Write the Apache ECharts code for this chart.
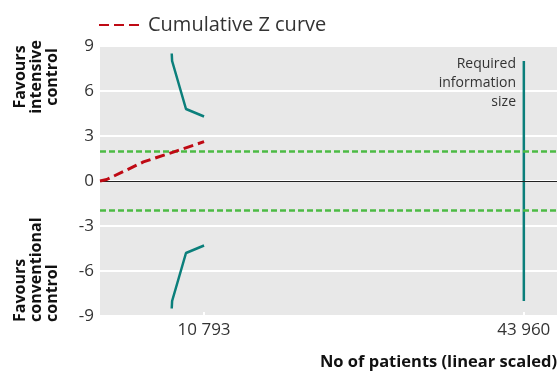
<!DOCTYPE html>
<html>
<head>
<meta charset="utf-8">
<script src="https://cdn.jsdelivr.net/npm/echarts@6/dist/echarts.min.js"></script>
<style>
    html, body { margin: 0; padding: 0; background: #fff; }
    #chart { width: 557px; height: 372px; }
</style>
</head>
<body>
<div id="chart"></div>
<script>
    // patients / cumulative Z
    var zCurveX = [0, 700, 4500, 7600, 10793];
    var zCurveY = [0, 0.1, 1.27, 1.93, 2.62];

    // monitoring boundaries (upper, lower is mirrored)
    var boundX = [7440, 7480, 8920, 10793];
    var boundUpper = [8.5, 8.0, 4.8, 4.3];
    var boundLower = [-8.5, -8.0, -4.8, -4.3];

    var risX = 43960;
    var risZ = [8, -8];

    var conventionalZ = [1.96, -1.96];
    var xTicks = [10793, 43960];

    var FONT = '"Open Sans", "Noto Sans", sans-serif';
    var TEAL = '#0b7f7b';
    var RED = '#bf0a14';

    var pairs = function (xs, ys) {
        var out = [], i;
        for (i = 0; i < xs.length; i++) {
            out.push([xs[i], ys[i]]);
        }
        return out;
    };

    var fmtNum = function (v) {
        return String(v).replace(/\B(?=(\d{3})+(?!\d))/g, ' ');
    };

    var boundStyle = { color: TEAL, width: 2.5 };

    var myChart = echarts.init(document.getElementById('chart'), null, { renderer: 'canvas' });

    myChart.setOption({
        animation: false,
        textStyle: { fontFamily: FONT },
        legend: {
            data: ['Cumulative Z curve'],
            left: 93,
            top: 10,
            itemWidth: 44,
            itemHeight: 14,
            itemGap: 6,
            // hide the legend's circle, keep the dashed line
            itemStyle: { color: 'rgba(0,0,0,0)', borderColor: 'rgba(0,0,0,0)', borderWidth: 0 },
            textStyle: { fontSize: 20, color: '#333', fontFamily: FONT }
        },
        grid: {
            left: 100, right: 0, top: 46, bottom: 56,
            outerBoundsMode: 'none',
            show: true, backgroundColor: '#e8e8e8', borderWidth: 0
        },
        xAxis: {
            type: 'value',
            min: 0,
            max: 47400,
            name: 'No of patients (linear scaled)',
            nameLocation: 'end',
            nameGap: 0,
            nameTextStyle: {
                fontSize: 16.5, fontWeight: 'bold', color: '#111',
                align: 'right', verticalAlign: 'top', padding: [38, 0, 0, 0]
            },
            axisLine: { show: false, onZero: false },
            splitLine: { show: false },
            axisTick: { show: true, customValues: xTicks, inside: true, length: 4, lineStyle: { color: '#fff', width: 2 } },
            axisLabel: {
                customValues: xTicks, fontSize: 17, color: '#333', margin: 6,
                formatter: fmtNum
            }
        },
        yAxis: {
            type: 'value',
            min: -9,
            max: 9,
            interval: 3,
            axisLine: { show: false },
            axisTick: { show: false },
            axisLabel: { fontSize: 17, color: '#333', margin: 6 },
            splitLine: { show: true, lineStyle: { color: '#fff', width: 2 } }
        },
        graphic: [
            {
                type: 'text', x: 36, y: 77, rotation: Math.PI / 2,
                style: {
                    text: 'Favours\nintensive\ncontrol', fill: '#111',
                    font: 'bold 16px ' + FONT, lineHeight: 16,
                    align: 'center', verticalAlign: 'middle'
                }
            },
            {
                type: 'text', x: 36, y: 322, rotation: Math.PI / 2,
                style: {
                    text: 'Favours\nconventional\ncontrol', fill: '#111',
                    font: 'bold 16px ' + FONT, lineHeight: 16,
                    align: 'left', verticalAlign: 'middle'
                }
            },
            {
                type: 'text', x: 516, y: 55,
                style: {
                    text: 'Required\ninformation\nsize', fill: '#333',
                    font: '14px ' + FONT, lineHeight: 19,
                    align: 'right', verticalAlign: 'top'
                }
            }
        ],
        series: [
            {
                name: 'zero',
                type: 'line',
                data: [],
                silent: true,
                markLine: {
                    symbol: 'none', silent: true, label: { show: false },
                    lineStyle: { color: '#222', width: 1, type: 'solid' },
                    data: [{ yAxis: 0 }]
                }
            },
            {
                name: 'conventional',
                type: 'line',
                data: [],
                silent: true,
                markLine: {
                    symbol: 'none', silent: true, label: { show: false },
                    lineStyle: { color: '#4cbb44', width: 2.5, type: [6, 3] },
                    data: [{ yAxis: conventionalZ[0] }, { yAxis: conventionalZ[1] }]
                }
            },
            {
                name: 'upper',
                type: 'line',
                symbol: 'none',
                data: pairs(boundX, boundUpper),
                lineStyle: boundStyle
            },
            {
                name: 'lower',
                type: 'line',
                symbol: 'none',
                data: pairs(boundX, boundLower),
                lineStyle: boundStyle
            },
            {
                name: 'RIS',
                type: 'line',
                symbol: 'none',
                data: [[risX, risZ[0]], [risX, risZ[1]]],
                lineStyle: boundStyle
            },
            {
                name: 'Cumulative Z curve',
                type: 'line',
                symbol: 'none',
                z: 5,
                data: pairs(zCurveX, zCurveY),
                itemStyle: { color: RED },
                lineStyle: { color: RED, width: 3, type: [10, 5] }
            }
        ]
    });
</script>
</body>
</html>
